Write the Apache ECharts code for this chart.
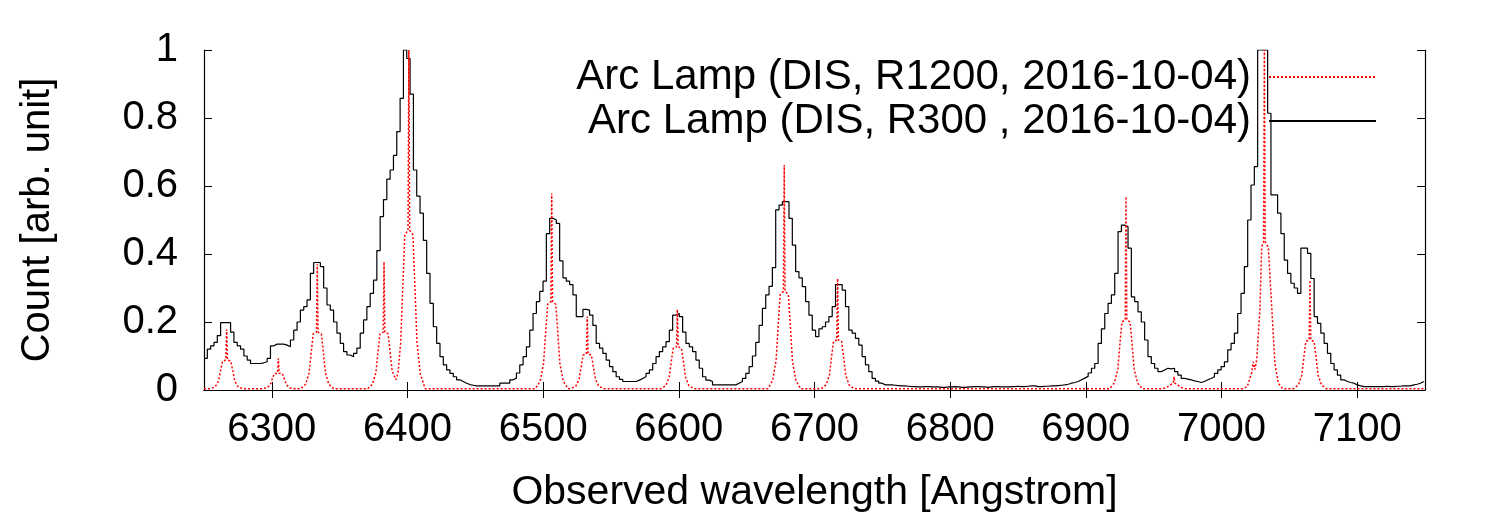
<!DOCTYPE html>
<html>
<head>
<meta charset="utf-8">
<title>Arc Lamp</title>
<script src="https://cdn.jsdelivr.net/npm/echarts@6/dist/echarts.min.js"></script>
<style>
  html, body { margin: 0; padding: 0; background: #fff; }
  #chart { width: 1500px; height: 525px; }
</style>
</head>
<body>
<div id="chart"></div>
<script>
// R300 spectrum: one value per detector bin, bins start at binStart, binWidth Angstrom wide
const binStart = 6250;
const binWidth = 2.45;
const r300Flux = [
    0.093, 0.12, 0.13, 0.14, 0.16, 0.198, 0.198, 0.198, 0.17, 0.14,
    0.13, 0.12, 0.10, 0.088, 0.078, 0.078, 0.078, 0.08, 0.083, 0.093,
    0.13, 0.135, 0.135, 0.135, 0.132, 0.127, 0.147, 0.176, 0.2, 0.235,
    0.245, 0.265, 0.343, 0.375, 0.375, 0.363, 0.3, 0.25, 0.235, 0.2,
    0.167, 0.137, 0.113, 0.103, 0.098, 0.108, 0.123, 0.167, 0.206, 0.245,
    0.284, 0.323, 0.41, 0.51, 0.56, 0.62, 0.647, 0.69, 0.76, 0.858,
    1.0, 0.975, 0.87, 0.647, 0.57, 0.52, 0.44, 0.343, 0.255, 0.186,
    0.137, 0.098, 0.074, 0.059, 0.049, 0.039, 0.03, 0.025, 0.02, 0.016,
    0.014, 0.012, 0.012, 0.012, 0.012, 0.012, 0.012, 0.012, 0.012, 0.02,
    0.02, 0.02, 0.03, 0.035, 0.05, 0.074, 0.098, 0.127, 0.176, 0.225,
    0.26, 0.29, 0.32, 0.46, 0.505, 0.5, 0.49, 0.38, 0.33, 0.32,
    0.31, 0.28, 0.216, 0.216, 0.237, 0.235, 0.22, 0.19, 0.137, 0.123,
    0.108, 0.088, 0.069, 0.054, 0.039, 0.031, 0.025, 0.025, 0.025, 0.025,
    0.029, 0.034, 0.039, 0.049, 0.059, 0.078, 0.098, 0.113, 0.127, 0.142,
    0.176, 0.22, 0.225, 0.216, 0.17, 0.137, 0.127, 0.113, 0.088, 0.064,
    0.039, 0.029, 0.025, 0.015, 0.015, 0.015, 0.015, 0.015, 0.015, 0.015,
    0.02, 0.025, 0.034, 0.049, 0.069, 0.1, 0.14, 0.19, 0.24, 0.28,
    0.305, 0.36, 0.53, 0.544, 0.554, 0.554, 0.505, 0.426, 0.348, 0.33,
    0.304, 0.26, 0.22, 0.176, 0.157, 0.18, 0.186, 0.2, 0.216, 0.245,
    0.31, 0.31, 0.294, 0.245, 0.176, 0.167, 0.152, 0.132, 0.098, 0.074,
    0.054, 0.034, 0.026, 0.02, 0.015, 0.015, 0.015, 0.014, 0.013, 0.012,
    0.012, 0.011, 0.01, 0.01, 0.009, 0.009, 0.01, 0.01, 0.009, 0.009,
    0.009, 0.008, 0.008, 0.009, 0.009, 0.01, 0.009, 0.008, 0.008, 0.009,
    0.009, 0.01, 0.01, 0.009, 0.009, 0.008, 0.009, 0.01, 0.01, 0.009,
    0.009, 0.009, 0.01, 0.01, 0.011, 0.01, 0.01, 0.011, 0.012, 0.012,
    0.01, 0.01, 0.011, 0.011, 0.012, 0.012, 0.013, 0.014, 0.015, 0.017,
    0.02, 0.022, 0.025, 0.03, 0.035, 0.04, 0.05, 0.064, 0.078, 0.137,
    0.18, 0.225, 0.255, 0.28, 0.343, 0.466, 0.485, 0.48, 0.417, 0.274,
    0.26, 0.23, 0.2, 0.147, 0.098, 0.078, 0.064, 0.054, 0.059, 0.064,
    0.062, 0.064, 0.054, 0.044, 0.034, 0.032, 0.03, 0.027, 0.025, 0.022,
    0.025, 0.03, 0.034, 0.039, 0.049, 0.059, 0.069, 0.083, 0.118, 0.137,
    0.167, 0.225, 0.284, 0.363, 0.5, 0.603, 0.657, 1.0, 1.0, 1.0,
    0.814, 0.574, 0.574, 0.52, 0.46, 0.382, 0.343, 0.314, 0.3, 0.284,
    0.417, 0.417, 0.402, 0.328, 0.216, 0.196, 0.167, 0.137, 0.108, 0.078,
    0.059, 0.044, 0.03, 0.025, 0.022, 0.02, 0.015, 0.012, 0.01, 0.01,
    0.01, 0.01, 0.01, 0.01, 0.01, 0.011, 0.01, 0.01, 0.011, 0.011,
    0.012, 0.012, 0.012, 0.015, 0.017, 0.02, 0.025, 0.025
];

// R1200 spectrum, sampled around each line (wavelength, flux)
const r1200Wave = [
    6250,
    6254.7, 6258.2, 6260.7, 6262.2, 6263.7, 6266.1, 6266.7, 6267.3, 6269.7, 6271.2, 6272.7, 6275.2, 6278.7,
    6292.8, 6296.3, 6298.8, 6300.3, 6301.8, 6304.2, 6304.8, 6305.4, 6307.8, 6309.3, 6310.8, 6313.3, 6316.8,
    6321.5, 6325.0, 6327.5, 6329.0, 6330.5, 6332.9, 6333.5, 6334.1, 6336.5, 6338.0, 6339.5, 6342.0, 6345.5,
    6370.7, 6374.2, 6376.7, 6378.2, 6379.7, 6382.1, 6382.7, 6383.3, 6385.7, 6387.2, 6388.7, 6391.5,
    6393.0, 6395.0, 6396.5, 6398.0, 6400.4, 6401.0, 6401.6, 6404.0, 6405.5, 6407.0, 6409.5, 6413.0,
    6494.3, 6497.8, 6500.3, 6501.8, 6503.3, 6505.7, 6506.3, 6506.9, 6509.3, 6510.8, 6512.3, 6514.8, 6518.3,
    6520.5, 6524.0, 6526.5, 6528.0, 6529.5, 6531.9, 6532.5, 6533.1, 6535.5, 6537.0, 6538.5, 6541.0, 6544.5,
    6586.9, 6590.4, 6592.9, 6594.4, 6595.9, 6598.3, 6598.9, 6599.5, 6601.9, 6603.4, 6604.9, 6607.4, 6610.9,
    6665.7, 6669.2, 6671.7, 6673.2, 6674.7, 6677.1, 6677.7, 6678.3, 6680.7, 6682.2, 6683.7, 6686.2, 6689.7,
    6705.0, 6708.5, 6711.0, 6712.5, 6714.0, 6716.4, 6717.0, 6717.6, 6720.0, 6721.5, 6723.0, 6725.5, 6729.0,
    6917.6, 6921.1, 6923.6, 6925.1, 6926.6, 6929.0, 6929.6, 6930.2, 6932.6, 6934.1, 6935.6, 6938.1, 6941.6,
    6956.0, 6959.0, 6961.5, 6964.4, 6965.0, 6965.6, 6968.5, 6971.0, 6974.0,
    7016.0, 7019.0, 7022.2, 7023.4, 7024.6, 7026.0, 7028.4, 7029.6, 7031.0, 7031.6, 7032.2, 7034.5, 7037.0, 7039.4, 7041.9, 7045.0,
    7053.2, 7056.7, 7059.2, 7060.7, 7062.2, 7064.6, 7065.2, 7065.8, 7068.2, 7069.7, 7071.2, 7073.7, 7077.2,
    7150
];
const r1200Flux = [
    0.004,
    0.004, 0.009, 0.026, 0.057, 0.085, 0.088, 0.178, 0.088, 0.085, 0.057, 0.026, 0.009, 0.004,
    0.004, 0.006, 0.015, 0.032, 0.048, 0.049, 0.093, 0.049, 0.048, 0.032, 0.015, 0.006, 0.004,
    0.004, 0.017, 0.051, 0.11, 0.165, 0.17, 0.37, 0.17, 0.165, 0.11, 0.051, 0.017, 0.004,
    0.004, 0.017, 0.051, 0.11, 0.165, 0.17, 0.377, 0.17, 0.165, 0.11, 0.055, 0.03,
    0.05, 0.14, 0.3, 0.456, 0.47, 1.0, 0.47, 0.456, 0.3, 0.14, 0.047, 0.004,
    0.004, 0.026, 0.078, 0.169, 0.252, 0.26, 0.578, 0.26, 0.252, 0.169, 0.078, 0.026, 0.004,
    0.004, 0.011, 0.032, 0.069, 0.103, 0.106, 0.216, 0.106, 0.103, 0.069, 0.032, 0.011, 0.004,
    0.004, 0.013, 0.038, 0.083, 0.123, 0.127, 0.237, 0.127, 0.123, 0.083, 0.038, 0.013, 0.004,
    0.004, 0.029, 0.087, 0.189, 0.281, 0.29, 0.662, 0.29, 0.281, 0.189, 0.087, 0.029, 0.004,
    0.004, 0.015, 0.044, 0.096, 0.143, 0.147, 0.328, 0.147, 0.143, 0.096, 0.044, 0.015, 0.004,
    0.004, 0.021, 0.062, 0.134, 0.2, 0.206, 0.569, 0.206, 0.2, 0.134, 0.062, 0.021, 0.004,
    0.004, 0.006, 0.013, 0.02, 0.039, 0.02, 0.013, 0.006, 0.004,
    0.004, 0.01, 0.05, 0.083, 0.06, 0.09, 0.245, 0.42, 0.436, 1.0, 0.436, 0.42, 0.245, 0.078, 0.02, 0.004,
    0.004, 0.015, 0.044, 0.096, 0.143, 0.147, 0.323, 0.147, 0.143, 0.096, 0.044, 0.015, 0.004,
    0.004
];

const xTicks = [6300, 6400, 6500, 6600, 6700, 6800, 6900, 7000, 7100];
const r1200Name = 'Arc Lamp (DIS, R1200, 2016-10-04)';
const r300Name = 'Arc Lamp (DIS, R300 , 2016-10-04)';

const FONT = '"Liberation Sans", Arial, Helvetica, sans-serif';
const axisColor = '#000';

const r300Data = r300Flux.map((v, i) => [binStart + i * binWidth, v]);
const r1200Data = r1200Wave.map((w, i) => [w, r1200Flux[i]]);

const chart = echarts.init(document.getElementById('chart'));

const mirrorX = {
    type: 'value',
    min: 6250,
    max: 7150,
    axisLine: { show: true, lineStyle: { color: axisColor, width: 1.2 } },
    axisTick: { show: true, inside: true, length: 8, customValues: xTicks, lineStyle: { color: axisColor, width: 1 } },
    splitLine: { show: false }
};
const mirrorY = {
    type: 'value',
    min: 0,
    max: 1,
    interval: 0.2,
    axisLine: { show: true, lineStyle: { color: axisColor, width: 1.2 } },
    axisTick: { show: true, inside: true, length: 8, lineStyle: { color: axisColor, width: 1 } },
    splitLine: { show: false }
};

chart.setOption({
    animation: false,
    backgroundColor: '#fff',
    textStyle: { fontFamily: FONT },
    grid: { left: 204, right: 75, top: 50, bottom: 135 },
    legend: {
        orient: 'vertical',
        right: 118,
        top: 51,
        align: 'right',
        itemWidth: 107,
        itemHeight: 1,
        itemGap: 2,
        itemStyle: { opacity: 0 },
        data: [r1200Name, r300Name],
        textStyle: { fontSize: 42, lineHeight: 42, color: '#000', fontFamily: FONT, padding: [0, 13, 0, 0] }
    },
    xAxis: [
        Object.assign({}, mirrorX, {
            position: 'bottom',
            name: 'Observed wavelength [Angstrom]',
            nameLocation: 'middle',
            nameGap: 82,
            nameTextStyle: { fontSize: 41, color: '#000', fontFamily: FONT },
            axisLabel: {
                show: true, customValues: xTicks, fontSize: 40, color: '#000', margin: 20, fontFamily: FONT,
                formatter: (v) => String(v)
            }
        }),
        Object.assign({}, mirrorX, { position: 'top', axisLabel: { show: false } })
    ],
    yAxis: [
        Object.assign({}, mirrorY, {
            position: 'left',
            name: 'Count [arb. unit]',
            nameLocation: 'middle',
            nameGap: 146,
            nameTextStyle: { fontSize: 40, color: '#000', fontFamily: FONT },
            axisLabel: { show: true, fontSize: 40, color: '#000', margin: 26, fontFamily: FONT }
        }),
        Object.assign({}, mirrorY, { position: 'right', axisLabel: { show: false } })
    ],
    series: [
        {
            name: r1200Name,
            type: 'line',
            data: r1200Data,
            symbol: 'none',
            clip: true,
            z: 3,
            itemStyle: { color: '#ff0000' },
            lineStyle: { color: '#ff0000', width: 1.5, type: [2, 2] }
        },
        {
            name: r300Name,
            type: 'line',
            step: 'end',
            data: r300Data,
            symbol: 'none',
            clip: true,
            z: 2,
            itemStyle: { color: '#000' },
            lineStyle: { color: '#000', width: 1.2 }
        }
    ]
});
</script>
</body>
</html>
